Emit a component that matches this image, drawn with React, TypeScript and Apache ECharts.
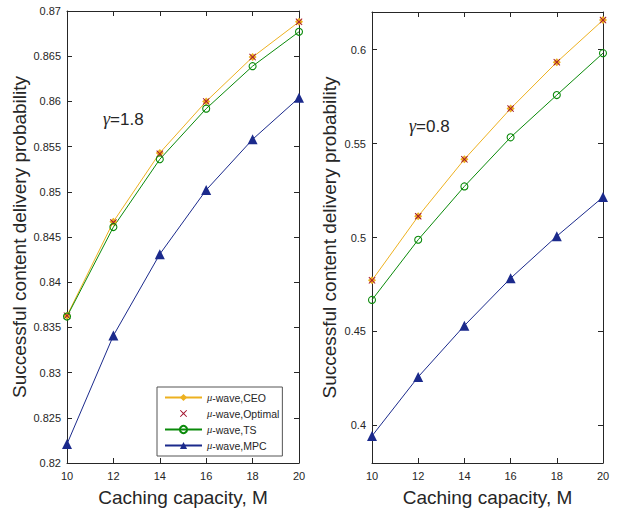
import React, { useEffect, useRef } from "react";
import * as echarts from "echarts";

const xCats = [10, 12, 14, 16, 18, 20];

// Left panel (gamma = 1.8)
const leftCEO = [0.8363, 0.8467, 0.8543, 0.86, 0.8649, 0.8688];
const leftOptimal = [0.8363, 0.8466, 0.8542, 0.86, 0.8649, 0.8688];
const leftTS = [0.8362, 0.8461, 0.8536, 0.8592, 0.8639, 0.8677];
const leftMPC = [0.8221, 0.8341, 0.8431, 0.8502, 0.8558, 0.8604];

// Right panel (gamma = 0.8)
const rightCEO = [0.4772, 0.5113, 0.5416, 0.5686, 0.5933, 0.6157];
const rightOptimal = [0.4772, 0.5113, 0.5416, 0.5686, 0.5933, 0.6157];
const rightTS = [0.4668, 0.4988, 0.5272, 0.5533, 0.5758, 0.5981];
const rightMPC = [0.3944, 0.4258, 0.4531, 0.4783, 0.5007, 0.5215];

const rightTicks = [0.4, 0.45, 0.5, 0.55, 0.6];
const seriesNames = ["μ-wave,CEO", "μ-wave,Optimal", "μ-wave,TS", "μ-wave,MPC"];

const C_CEO = "#EDB120";
const C_OPT = "#A2142F";
const C_TS = "#0A8A0A";
const C_MPC = "#1B2A8C";
const AX = "#262626";
const FONT = "Liberation Sans, Arial, Helvetica, sans-serif";
const X_SYMBOL =
  "path://M1,0 L5,4 L9,0 L10,1 L6,5 L10,9 L9,10 L5,6 L1,10 L0,9 L4,5 L0,1 Z";

const pair = (ys: number[]) => xCats.map((x, i) => [x, ys[i]]);

function fmt(v: number) {
  return String(parseFloat(v.toFixed(3)));
}

function makeSeries(idx: number, data: number[][]) {
  const [ceo, opt, ts, mpc] = data as any;
  return [
    {
      name: seriesNames[0],
      type: "line",
      xAxisIndex: idx * 2,
      yAxisIndex: idx * 2,
      data: ceo,
      symbol: "diamond",
      symbolSize: 8,
      lineStyle: { color: C_CEO, width: 1 },
      itemStyle: { color: C_CEO },
    },
    {
      name: seriesNames[1],
      type: "line",
      xAxisIndex: idx * 2,
      yAxisIndex: idx * 2,
      data: opt,
      symbol: X_SYMBOL,
      symbolSize: 7,
      lineStyle: { opacity: 0, width: 0 },
      itemStyle: { color: C_OPT },
    },
    {
      name: seriesNames[2],
      type: "line",
      xAxisIndex: idx * 2,
      yAxisIndex: idx * 2,
      data: ts,
      symbol: "circle",
      symbolSize: 7,
      lineStyle: { color: C_TS, width: 1 },
      itemStyle: { color: "rgba(255,255,255,0)", borderColor: C_TS, borderWidth: 1.1 },
    },
    {
      name: seriesNames[3],
      type: "line",
      xAxisIndex: idx * 2,
      yAxisIndex: idx * 2,
      data: mpc,
      symbol: "triangle",
      symbolSize: 10,
      lineStyle: { color: C_MPC, width: 1 },
      itemStyle: { color: C_MPC },
    },
  ];
}

export default function App() {
  const ref = useRef<HTMLDivElement>(null);
  useEffect(() => {
    document.body.style.margin = "0";
    const chart = echarts.init(ref.current!, null, { renderer: "svg" });
    const axisLine = { show: true, lineStyle: { color: AX, width: 1 } };
    const tickIn = { show: true, inside: true, length: 5, lineStyle: { color: AX } };
    const xBottom = (gi: number) => ({
      type: "value",
      gridIndex: gi,
      min: 10,
      max: 20,
      interval: 2,
      position: "bottom",
      name: "Caching capacity, M",
      nameLocation: "middle",
      nameGap: 25,
      nameTextStyle: { fontSize: 19, color: AX, fontFamily: FONT },
      axisLine,
      axisTick: tickIn,
      axisLabel: { fontSize: 11, color: AX, fontFamily: FONT, margin: 7 },
      splitLine: { show: false },
    });
    const xTop = (gi: number) => ({
      type: "value",
      gridIndex: gi,
      min: 10,
      max: 20,
      interval: 2,
      position: "top",
      axisLine,
      axisTick: tickIn,
      axisLabel: { show: false },
      splitLine: { show: false },
    });
    const yTitle = "Successful content delivery probability";
    const option: any = {
      animation: false,
      backgroundColor: "#fff",
      textStyle: { fontFamily: FONT },
      grid: [
        { left: 67, right: 325, top: 11, bottom: 47 },
        { left: 372, right: 21, top: 12, bottom: 47 },
      ],
      xAxis: [xBottom(0), xTop(0), xBottom(1), xTop(1)],
      yAxis: [
        {
          type: "value",
          gridIndex: 0,
          min: 0.82,
          max: 0.87,
          interval: 0.005,
          position: "left",
          name: yTitle,
          nameLocation: "middle",
          nameGap: 38,
          nameTextStyle: { fontSize: 19, color: AX, fontFamily: FONT },
          axisLine,
          axisTick: tickIn,
          axisLabel: { fontSize: 11, color: AX, fontFamily: FONT, margin: 6, formatter: fmt },
          splitLine: { show: false },
        },
        {
          type: "value",
          gridIndex: 0,
          min: 0.82,
          max: 0.87,
          interval: 0.005,
          position: "right",
          axisLine,
          axisTick: tickIn,
          axisLabel: { show: false },
          splitLine: { show: false },
        },
        {
          type: "value",
          gridIndex: 1,
          min: 0.38,
          max: 0.62,
          position: "left",
          name: yTitle,
          nameLocation: "middle",
          nameGap: 33,
          nameTextStyle: { fontSize: 19, color: AX, fontFamily: FONT },
          axisLine,
          axisTick: { ...tickIn, customValues: rightTicks },
          axisLabel: {
            fontSize: 11,
            color: AX,
            fontFamily: FONT,
            margin: 6,
            customValues: rightTicks,
            formatter: fmt,
          },
          splitLine: { show: false },
        },
        {
          type: "value",
          gridIndex: 1,
          min: 0.38,
          max: 0.62,
          position: "right",
          axisLine,
          axisTick: { ...tickIn, customValues: rightTicks },
          axisLabel: { show: false, customValues: rightTicks },
          splitLine: { show: false },
        },
      ],
      legend: {
        data: seriesNames,
        orient: "vertical",
        left: 157,
        top: 387,
        padding: [5, 3, 5, 7],
        itemGap: 5,
        itemWidth: 37,
        itemHeight: 9,
        backgroundColor: "#fff",
        borderColor: "#555",
        borderWidth: 1,
        borderRadius: 0,
        lineStyle: { width: 2 },
        textStyle: {
          fontSize: 10.5,
          color: AX,
          fontFamily: FONT,
          rich: {
            m: { fontSize: 10.5, fontStyle: "italic", fontFamily: "Liberation Serif, serif", color: AX },
            t: { fontSize: 10.5, fontFamily: FONT, color: AX },
          },
        },
        formatter: (name: string) => `{m|μ}{t|${name.slice(1)}}`,
      },
      graphic: [
        {
          type: "text",
          left: 103,
          top: 110,
          style: {
            rich: {
              g: { fontSize: 18, fontStyle: "italic", fontFamily: "Liberation Serif, serif", fill: AX },
              t: { fontSize: 17, fontFamily: FONT, fill: AX },
            },
            text: "{g|γ}{t|=1.8}",
          },
        },
        {
          type: "text",
          left: 409,
          top: 117,
          style: {
            rich: {
              g: { fontSize: 18, fontStyle: "italic", fontFamily: "Liberation Serif, serif", fill: AX },
              t: { fontSize: 17, fontFamily: FONT, fill: AX },
            },
            text: "{g|γ}{t|=0.8}",
          },
        },
      ],
      series: [
        ...makeSeries(0, [pair(leftCEO), pair(leftOptimal), pair(leftTS), pair(leftMPC)]),
        ...makeSeries(1, [pair(rightCEO), pair(rightOptimal), pair(rightTS), pair(rightMPC)]),
      ],
    };
    chart.setOption(option);
    return () => chart.dispose();
  }, []);
  return <div ref={ref} style={{ width: 624, height: 512 }} />;
}
